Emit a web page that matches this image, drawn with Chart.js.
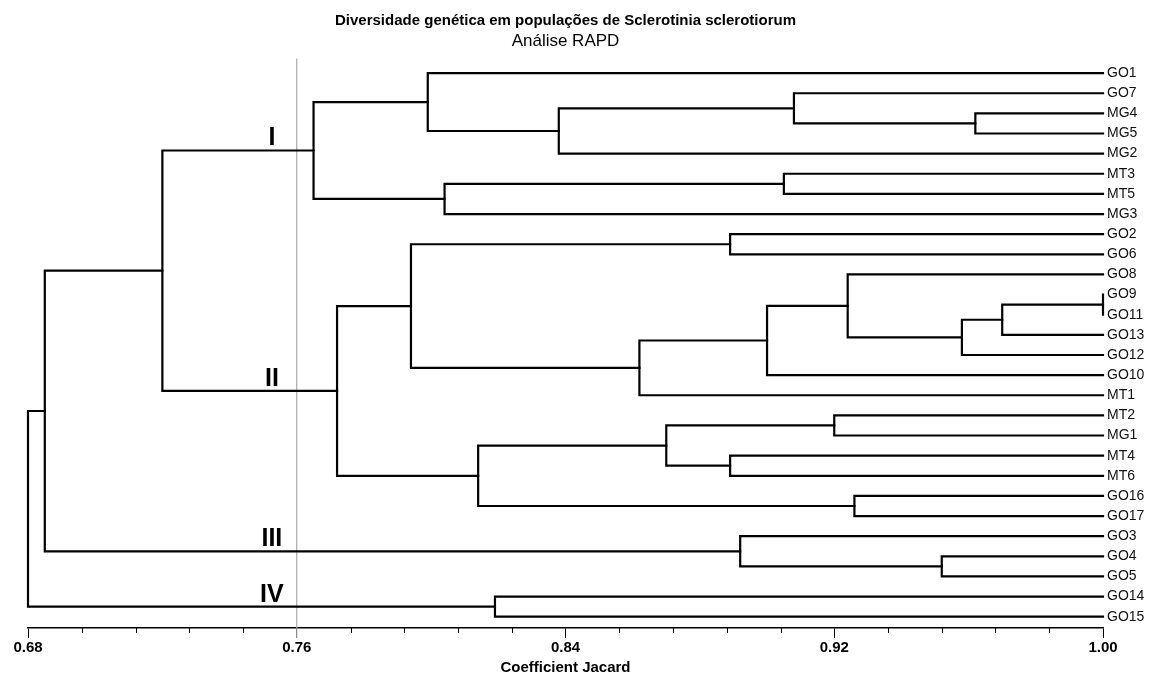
<!DOCTYPE html>
<html>
<head>
<meta charset="utf-8">
<script src="https://cdn.jsdelivr.net/npm/chart.js@4/dist/chart.umd.min.js"></script>
<style>
  html, body { margin: 0; padding: 0; background: #ffffff; }
  #wrap { width: 1150px; height: 677px; }
</style>
</head>
<body>
<div id="wrap"><canvas id="c" width="1150" height="677"></canvas></div>
<script>
// ---- DATA ----
const leaves = ['GO1','GO7','MG4','MG5','MG2','MT3','MT5','MG3','GO2','GO6','GO8','GO9','GO11','GO13','GO12','GO10','MT1','MT2','MG1','MT4','MT6','GO16','GO17','GO3','GO4','GO5','GO14','GO15'];
// [childA, childB, similarity, nodeName]
const merges = [
  ['MG4','MG5',0.962,'n1'],
  ['GO7','n1',0.908,'n2'],
  ['n2','MG2',0.838,'n3'],
  ['GO1','n3',0.799,'n4'],
  ['MT3','MT5',0.905,'n5'],
  ['n5','MG3',0.804,'n6'],
  ['n4','n6',0.765,'I'],
  ['GO2','GO6',0.889,'n7'],
  ['GO9','GO11',1.000,'n8'],
  ['n8','GO13',0.970,'n9'],
  ['n9','GO12',0.958,'n10'],
  ['GO8','n10',0.924,'n11'],
  ['n11','GO10',0.900,'n12'],
  ['n12','MT1',0.862,'n13'],
  ['n7','n13',0.794,'n14'],
  ['MT2','MG1',0.920,'n15'],
  ['MT4','MT6',0.889,'n16'],
  ['n15','n16',0.870,'n17'],
  ['GO16','GO17',0.926,'n18'],
  ['n17','n18',0.814,'n19'],
  ['n14','n19',0.772,'II'],
  ['I','II',0.720,'n20'],
  ['GO4','GO5',0.952,'n21'],
  ['GO3','n21',0.892,'III'],
  ['n20','III',0.685,'n22'],
  ['GO14','GO15',0.819,'IV'],
  ['n22','IV',0.680,'root']
];
const clusterLabels = ['I','II','III','IV'];
const cutoff = 0.76;
const xMin = 0.68, xMax = 1.00;
const majorTickLabels = ['0.68','0.76','0.84','0.92','1.00'];
const minorPerMajor = 5;

// ---- build geometry from tree ----
const nodes = {};
leaves.forEach((n, i) => { nodes[n] = { y: i, h: 1.0 }; });
const branchDatasets = [];
merges.forEach(([a, b, h, name]) => {
  const A = nodes[a], B = nodes[b];
  nodes[name] = { y: (A.y + B.y) / 2, h: h };
  branchDatasets.push({
    data: [{x: A.h, y: A.y}, {x: h, y: A.y}, {x: h, y: B.y}, {x: B.h, y: B.y}],
    borderColor: '#000000', borderWidth: 2.2, showLine: true, pointRadius: 0,
    fill: false, tension: 0, clip: 6, order: 0, borderJoinStyle: 'miter', borderCapStyle: 'square'
  });
});

const yMin = -0.73, yMax = 27.56;
const FONT = "'Liberation Sans', Arial, Helvetica, sans-serif";

const cutDataset = {
  data: [{x: cutoff, y: yMin}, {x: cutoff, y: yMax}],
  borderColor: '#a8a8a8', borderWidth: 1.2, showLine: true, pointRadius: 0, clip: false, order: 1
};

const majorStep = (xMax - xMin) / (majorTickLabels.length - 1);
const minorStep = majorStep / minorPerMajor;

const extrasPlugin = {
  id: 'extras',
  afterDraw(chart) {
    const ctx = chart.ctx;
    const xs = chart.scales.x, ys = chart.scales.y;
    ctx.save();
    // minor ticks
    ctx.strokeStyle = '#000';
    ctx.lineWidth = 1;
    xs.ticks.forEach((t, i) => {
      if (i % minorPerMajor !== 0) {
        const px = Math.round(xs.getPixelForValue(t.value)) + 0.5;
        ctx.beginPath();
        ctx.moveTo(px, xs.top);
        ctx.lineTo(px, xs.top + 5);
        ctx.stroke();
      }
    });
    // cutoff line continues to tick
    ctx.strokeStyle = '#a8a8a8';
    ctx.lineWidth = 1.2;
    const cx = xs.getPixelForValue(cutoff);
    ctx.beginPath(); ctx.moveTo(cx, xs.top); ctx.lineTo(cx, xs.top + 10); ctx.stroke();
    // cluster labels
    ctx.fillStyle = '#000';
    ctx.font = 'bold 25px ' + FONT;
    ctx.textAlign = 'center';
    ctx.textBaseline = 'alphabetic';
    const lx = xs.getPixelForValue(0.7526);
    clusterLabels.forEach(name => {
      const py = ys.getPixelForValue(nodes[name].y);
      ctx.fillText(name, lx, py - 5);
    });
    ctx.restore();
  }
};

new Chart(document.getElementById('c'), {
  type: 'scatter',
  data: { datasets: [cutDataset, ...branchDatasets] },
  options: {
    responsive: false,
    animation: false,
    events: [],
    layout: { padding: { left: 0, right: 0, top: 0, bottom: 0 } },
    plugins: {
      legend: { display: false },
      tooltip: { enabled: false },
      title: {
        display: true,
        fullSize: false,
        text: 'Diversidade genética em populações de Sclerotinia sclerotiorum',
        color: '#000',
        font: { family: FONT, size: 15, weight: 'bold', lineHeight: 1.2 },
        padding: { top: 12, bottom: 1 }
      },
      subtitle: {
        display: true,
        fullSize: false,
        text: 'Análise RAPD',
        color: '#000',
        font: { family: FONT, size: 17, weight: 'normal', lineHeight: 1.2 },
        padding: { top: 0, bottom: 7 }
      }
    },
    scales: {
      x: {
        type: 'linear', position: 'bottom', min: xMin, max: xMax,
        afterBuildTicks: (scale) => {
          const n = (majorTickLabels.length - 1) * minorPerMajor;
          const t = [];
          for (let i = 0; i <= n; i++) t.push({ value: xMin + i * minorStep });
          scale.ticks = t;
        },
        afterFit: (scale) => { scale.height = 49; },
        ticks: {
          autoSkip: false, maxRotation: 0, minRotation: 0, padding: 1, color: '#000',
          font: { family: FONT, size: 15, weight: 'bold', lineHeight: 1.2 },
          callback: (v, i) => (i % minorPerMajor === 0 ? majorTickLabels[i / minorPerMajor] : '')
        },
        grid: {
          drawOnChartArea: false, drawTicks: true, tickLength: 10,
          color: (c) => (c.index % minorPerMajor === 0 ? '#000' : 'rgba(0,0,0,0)'),
          lineWidth: 1
        },
        border: { display: true, color: '#000', width: 1.5 },
        title: {
          display: true, text: 'Coefficient Jacard', color: '#000',
          font: { family: FONT, size: 15, weight: 'bold', lineHeight: 1.2 },
          padding: { top: 0, bottom: 0 }
        }
      },
      y: {
        type: 'linear', position: 'right', reverse: true, min: yMin, max: yMax,
        afterBuildTicks: (scale) => { scale.ticks = leaves.map((_, i) => ({ value: i })); },
        afterFit: (scale) => { scale.width = 47; },
        ticks: {
          autoSkip: false, padding: 4, color: '#111',
          font: { family: FONT, size: 14 },
          callback: (v) => leaves[v]
        },
        grid: { display: false, drawTicks: false },
        border: { display: false }
      },
      yPad: {
        type: 'linear', position: 'left',
        afterFit: (scale) => { scale.width = 28; },
        ticks: { display: false },
        grid: { display: false, drawTicks: false },
        border: { display: false }
      }
    }
  },
  plugins: [extrasPlugin]
});
</script>
</body>
</html>
